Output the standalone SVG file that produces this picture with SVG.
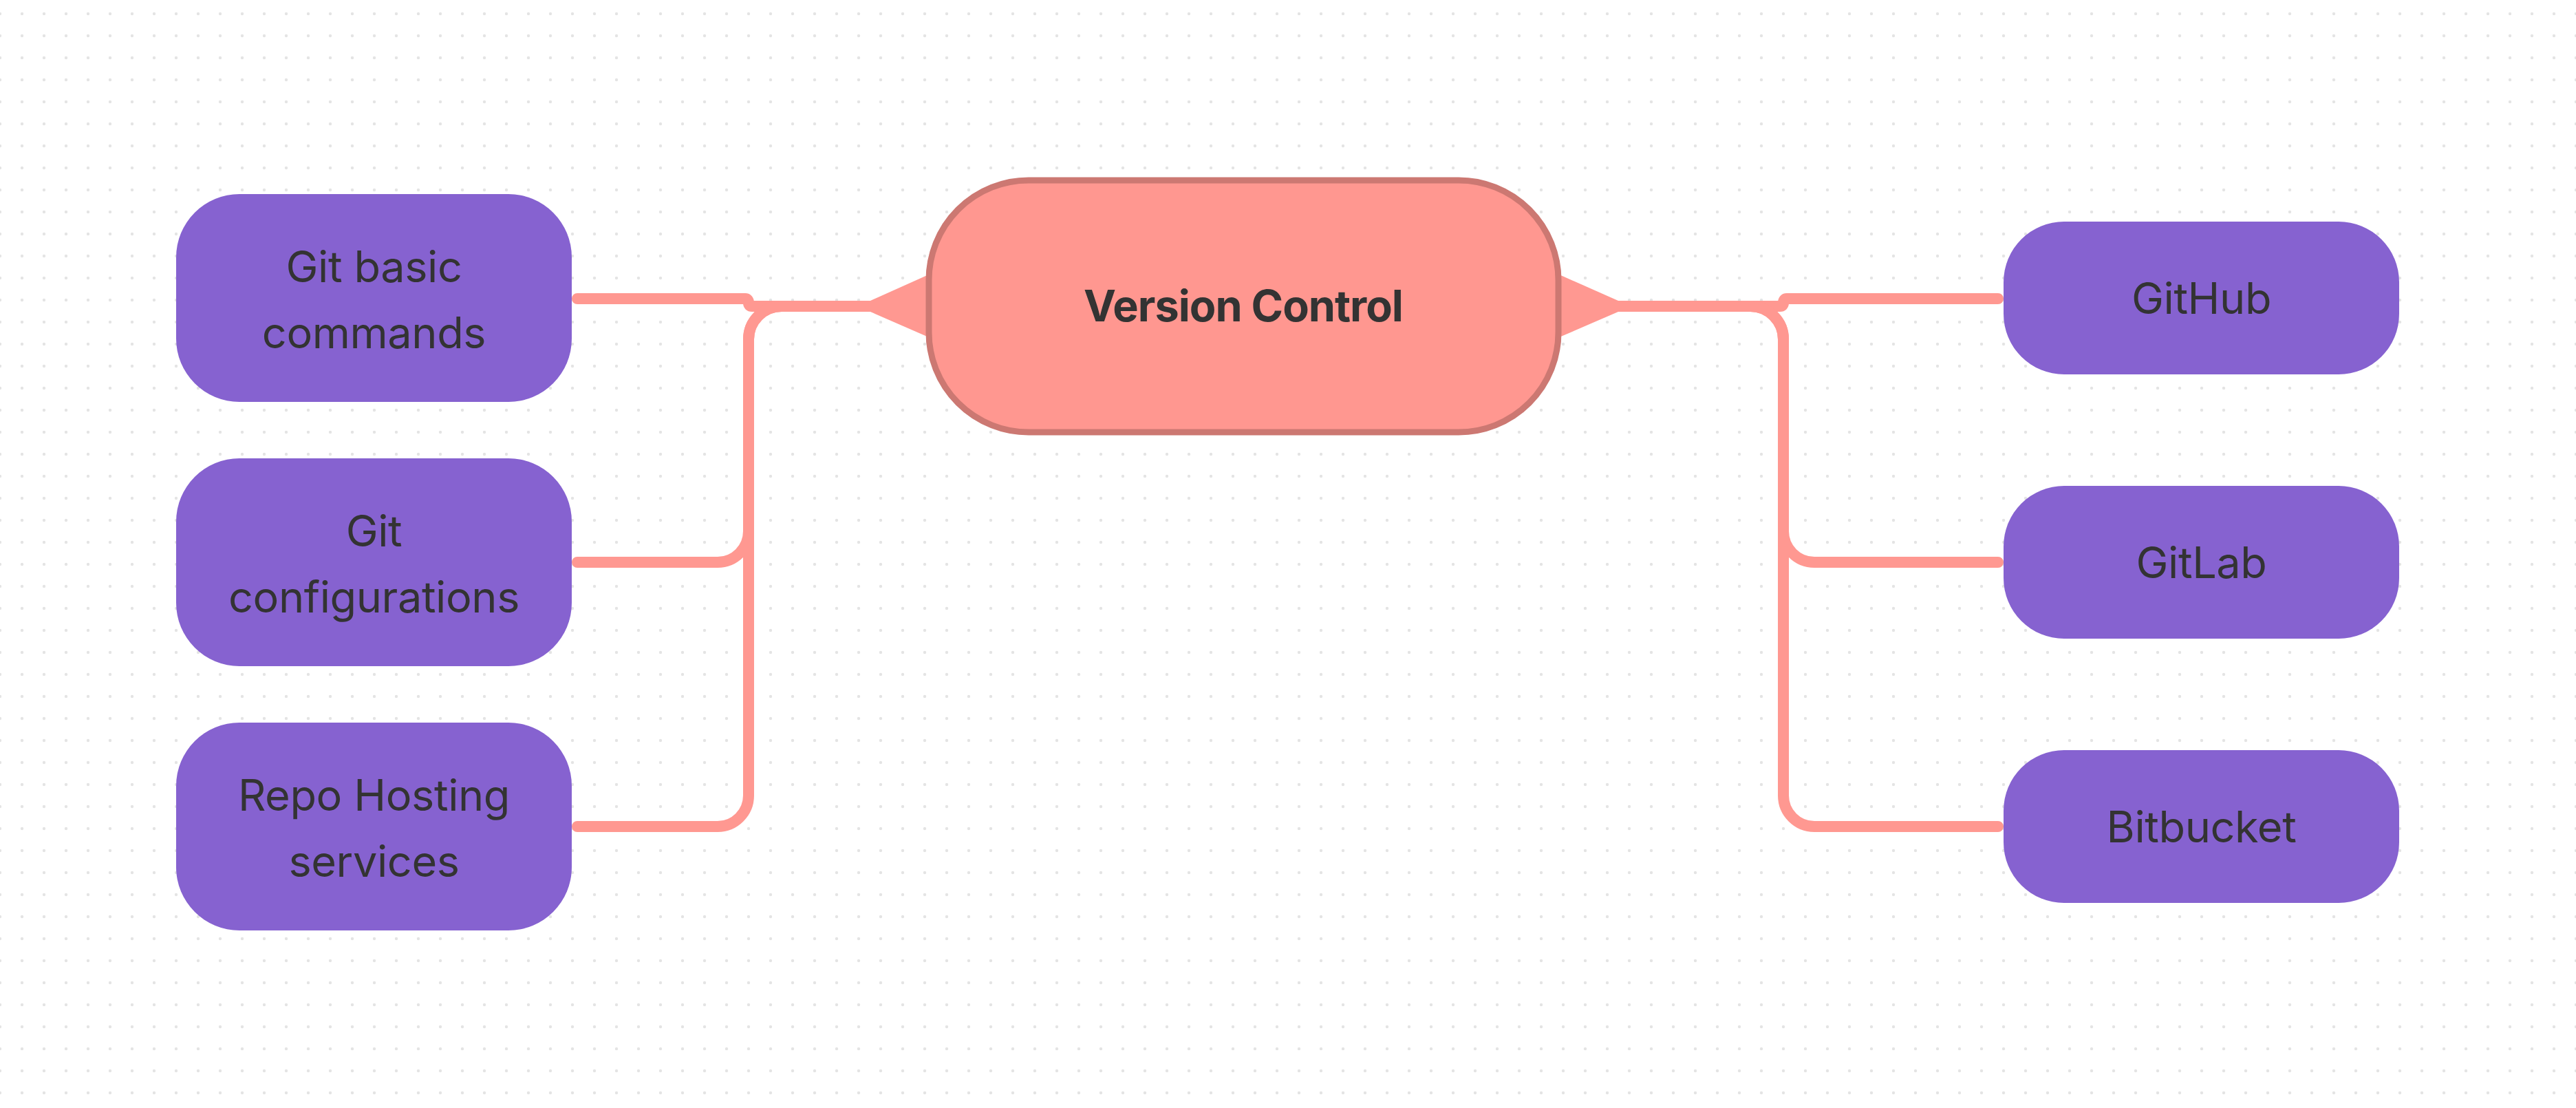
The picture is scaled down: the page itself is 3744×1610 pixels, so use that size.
<svg xmlns="http://www.w3.org/2000/svg" width="3744" height="1610" viewBox="0 0 3744 1610">
  <defs>
    <pattern id="dots" x="-16" y="4" width="32" height="32" patternUnits="userSpaceOnUse">
      <circle cx="16" cy="16" r="2.2" fill="#e4e4e4"/>
    </pattern>
    <style>
      .conn { fill: none; stroke: #FF9891; stroke-width: 16; stroke-linecap: round; stroke-linejoin: round; }
      .fan { fill: #FF9891; }
      .child rect { fill: #8662D0; }
      .lbl { font-family: Inter, "Noto Sans", "Liberation Sans", sans-serif; font-size: 63px; letter-spacing: -0.4px; fill: #333333; text-anchor: middle; }
      .root rect { fill: #FF9790; stroke: #CC7872; stroke-width: 9; }
      .root text { font-weight: 700; letter-spacing: -1px; }
    </style>
  </defs>
  <rect width="3744" height="1610" fill="#ffffff"/>
  <rect width="3744" height="1610" fill="url(#dots)"/>

  <g id="connectors">
    <path class="conn" d="M1265 445 H1093 Q1088 445 1088 440 Q1088 434 1083 434 H839"/>
    <path class="conn" d="M1265 445 H1136 A48 48 0 0 0 1088 493 V772 A45 45 0 0 1 1043 817 H839"/>
    <path class="conn" d="M1265 445 H1136 A48 48 0 0 0 1088 493 V1156 A45 45 0 0 1 1043 1201 H839"/>
    <path class="conn" d="M2352 445 H2587 Q2592 445 2592 440 Q2592 434 2597 434 H2904"/>
    <path class="conn" d="M2352 445 H2544 A48 48 0 0 1 2592 493 V772 A45 45 0 0 0 2637 817 H2904"/>
    <path class="conn" d="M2352 445 H2544 A48 48 0 0 1 2592 493 V1156 A45 45 0 0 0 2637 1201 H2904"/>
    <polygon class="fan" points="1265,437 1352,398 1352,491 1265,453"/>
    <polygon class="fan" points="2352,437 2264,398 2264,491 2352,453"/>
  </g>

  <g id="node-version-control" class="root">
    <rect x="1350" y="262" width="915" height="366" rx="145" ry="145"/>
    <text class="lbl" x="1807" y="467">Version Control</text>
  </g>

  <g id="node-git-basic-commands" class="child">
    <rect x="256" y="282" width="575" height="302" rx="92" ry="92"/>
    <text class="lbl" x="543.5" y="410">Git basic</text>
    <text class="lbl" x="543.5" y="506">commands</text>
  </g>
  <g id="node-git-configurations" class="child">
    <rect x="256" y="666" width="575" height="302" rx="92" ry="92"/>
    <text class="lbl" x="543.5" y="794">Git</text>
    <text class="lbl" x="543.5" y="890">configurations</text>
  </g>
  <g id="node-repo-hosting" class="child">
    <rect x="256" y="1050" width="575" height="302" rx="92" ry="92"/>
    <text class="lbl" x="543.5" y="1178">Repo Hosting</text>
    <text class="lbl" x="543.5" y="1274">services</text>
  </g>

  <g id="node-github" class="child">
    <rect x="2912" y="322" width="575" height="222" rx="88" ry="88"/>
    <text class="lbl" x="3199.5" y="456">GitHub</text>
  </g>
  <g id="node-gitlab" class="child">
    <rect x="2912" y="706" width="575" height="222" rx="88" ry="88"/>
    <text class="lbl" x="3199.5" y="840">GitLab</text>
  </g>
  <g id="node-bitbucket" class="child">
    <rect x="2912" y="1090" width="575" height="222" rx="88" ry="88"/>
    <text class="lbl" x="3199.5" y="1224">Bitbucket</text>
  </g>
</svg>
